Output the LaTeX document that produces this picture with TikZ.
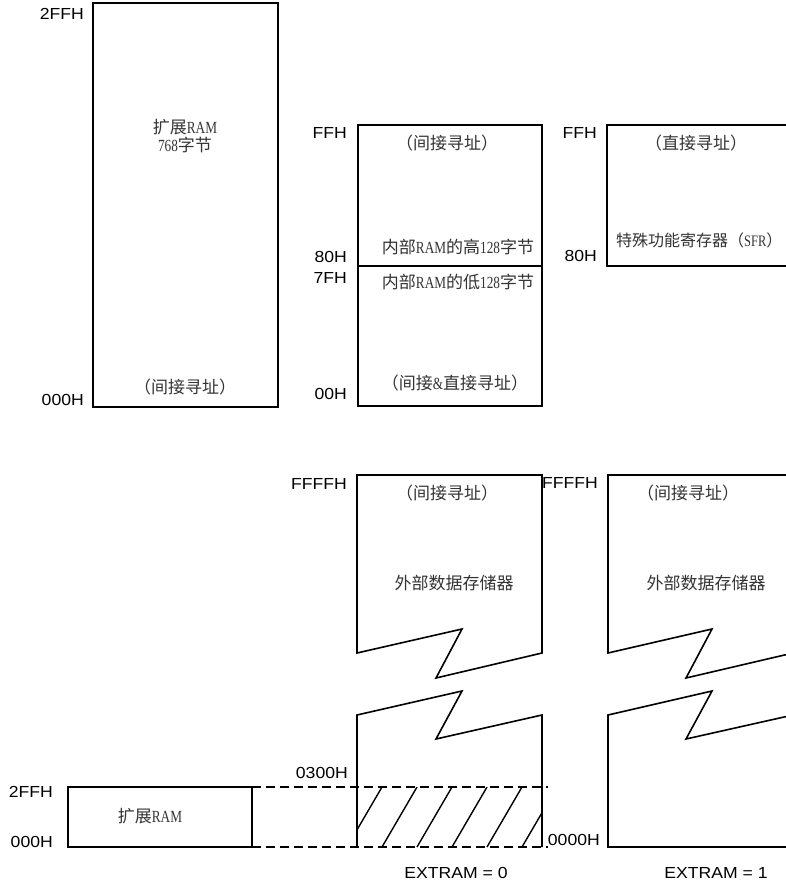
\documentclass[tikz,border=0pt]{standalone}
\usepackage{fontspec}
\setmainfont[FakeStretch=0.78]{Liberation Serif}
\newfontfamily\cjk{Noto Sans CJK SC}
\newfontfamily\lab[FakeStretch=1.1]{Liberation Sans}
\begin{document}
\begin{tikzpicture}[x=1pt,y=-1pt]
\tikzset{
  box/.style={line width=1.6pt, line join=miter},
  addr/.style={font=\lab\fontsize{16}{18}\selectfont, anchor=east, inner sep=0pt},
  txt/.style={font=\fontsize{17}{18.5}\selectfont, text=black!80, inner sep=0pt, align=center},
  dashline/.style={line width=1.4pt, dash pattern=on 9pt off 5pt},
  hatchline/.style={line width=1.4pt}
}
\useasboundingbox (0,0) rectangle (786,894);
\clip (0,0) rectangle (786,894);

% ---- top left: extended RAM
\draw[box] (93,3) rectangle (278,407);
\node[addr] (t2ffh) at (84,14) {2FFH};
\node[addr] (t000h) at (84,400) {000H};
\node[txt] (extram) at (185,136) {{\cjk 扩展}RAM\\768{\cjk 字节}};
\node[txt] (extind) at (185,387) {{\cjk （间接寻址）}};

% ---- top middle: internal RAM
\draw[box] (358,125) rectangle (542,406);
\draw[box] (358,266) -- (542,266);
\node[addr] (mffh) at (347,133) {FFH};
\node[addr] (m80h) at (347,257) {80H};
\node[addr] (m7fh) at (347,278) {7FH};
\node[addr] (m00h) at (347,394) {00H};
\node[txt] (mind) at (447,143) {{\cjk （间接寻址）}};
\node[txt] (mhigh) at (458,247) {{\cjk 内部}RAM{\cjk 的高}128{\cjk 字节}};
\node[txt] (mlow) at (458,282) {{\cjk 内部}RAM{\cjk 的低}128{\cjk 字节}};
\node[txt] (mboth) at (455,383) {{\cjk （间接}\&{\cjk 直接寻址）}};

% ---- top right: SFR
\draw[box] (607,125) rectangle (793,266);
\node[addr] (rffh) at (597,133) {FFH};
\node[addr] (r80h) at (597,256) {80H};
\node[txt] (rdir) at (696,143) {{\cjk （直接寻址）}};
\node[txt, anchor=west, font=\fontsize{16}{18}\selectfont] (rsfr) at (616,240) {{\cjk 特殊功能寄存器（}SFR{\cjk ）}};

% ---- bottom middle: external data memory, EXTRAM = 0
\draw[box] (542,653) -- (542,475) -- (357,475) -- (357,653) -- (462,629) -- (436,678) -- cycle;
\draw[box] (357,847) -- (357,715) -- (462,691) -- (436,739) -- (542,715) -- (542,847);
\begin{scope}
  \clip (357,787) rectangle (542,847);
  \foreach \k in {0,...,5}
    \draw[hatchline] ({347+35*\k},847) -- ({382+35*\k},787);
\end{scope}
\node[addr] (bffff) at (347,484) {FFFFH};
\node[addr] (b0300) at (348,773) {0300H};
\node[txt] (bind) at (447,493) {{\cjk （间接寻址）}};
\node[txt] (bext) at (454,583) {{\cjk 外部数据存储器}};
\node[addr, anchor=center] (ex0) at (456,873) {EXTRAM = 0};

% ---- bottom left: extended RAM
\draw[box] (68,787) rectangle (252,847);
\node[addr] (s2ffh) at (53,792) {2FFH};
\node[addr] (s000h) at (53,842) {000H};
\node[txt] (sram) at (150,816) {{\cjk 扩展}RAM};
\draw[dashline] (252,787) -- (548,787);
\draw[dashline] (252,847) -- (548,847);

% ---- bottom right: EXTRAM = 1
\draw[box] (793,653) -- (793,475) -- (608,475) -- (608,653) -- (712,629) -- (686,678) -- cycle;
\draw[box] (793,847) -- (608,847) -- (608,715) -- (712,691) -- (686,739) -- (793,715) -- cycle;
\node[addr] (cffff) at (598,483) {FFFFH};
\node[addr] (c0000) at (600,840) {0000H};
\node[txt] (cind) at (688,493) {{\cjk （间接寻址）}};
\node[txt] (cext) at (706,583) {{\cjk 外部数据存储器}};
\node[addr, anchor=center] (ex1) at (716,873) {EXTRAM = 1};
\end{tikzpicture}
\end{document}
